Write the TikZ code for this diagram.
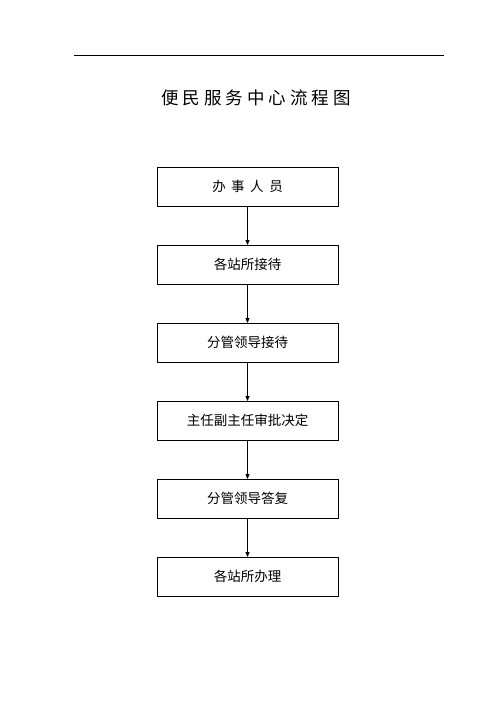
\documentclass[tikz,border=0pt]{standalone}
\usepackage{fontspec}
\setmainfont{Liberation Sans}
\newfontfamily\cjk{Noto Sans CJK SC}
\usetikzlibrary{positioning,arrows.meta}
\begin{document}
\begin{tikzpicture}[x=1bp,y=-1bp,
  stepbox/.style={draw, line width=0.8bp, minimum width=181bp, minimum height=39bp,
    inner sep=0pt, outer sep=0pt, font=\cjk\fontsize{13.5bp}{16bp}\selectfont},
  flow/.style={-{Triangle[length=5bp,width=4bp]}, line width=0.8bp}]
  \def\gap{39bp}
  \useasboundingbox (0,0) rectangle (496,702);
  \draw [line width=0.8bp] (74,55) -- (444,55);
  \node [font=\cjk\fontsize{17.5bp}{20bp}\selectfont] (title) at (256,98)
    {便\kern4bp民\kern4bp服\kern4bp务\kern4bp中\kern4bp心\kern4bp流\kern4bp程\kern4bp图};
  \node [stepbox] (s1) at (247.5,186.5) {办\hspace{5.5bp}事\hspace{5.5bp}人\hspace{5.5bp}员};
  \node [stepbox, below=\gap of s1] (s2) {各站所接待};
  \node [stepbox, below=\gap of s2] (s3) {分管领导接待};
  \node [stepbox, below=\gap of s3] (s4) {主任副主任审批决定};
  \node [stepbox, below=\gap of s4] (s5) {分管领导答复};
  \node [stepbox, below=\gap of s5] (s6) {各站所办理};
  \foreach \a/\b in {s1/s2,s2/s3,s3/s4,s4/s5,s5/s6}
  \draw [flow] (\a) -- (\b);
\end{tikzpicture}
\end{document}
